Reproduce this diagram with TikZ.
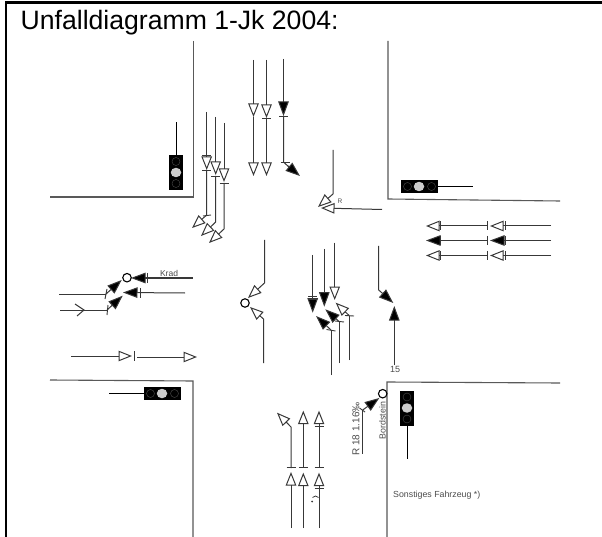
\documentclass[tikz,border=0pt]{standalone}
\usepackage{fontspec}
\setmainfont{Liberation Sans}
\usetikzlibrary{arrows.meta,shapes.geometric}
\definecolor{laneink}{gray}{0.22}
\definecolor{kerbink}{gray}{0.35}
\definecolor{labelink}{gray}{0.30}

\begin{document}
\begin{tikzpicture}[
    x=1pt, y=-1pt,
    kerb/.style={draw=kerbink, line width=1.1pt},
    trk/.style={draw=laneink, line width=1pt},
    stopbar/.style={draw=laneink, line width=0.9pt},
    opn/.style={trk, -{Triangle[open, length=13.5pt, width=10.5pt]}},
    blk/.style={trk, -{Triangle[length=14.5pt, width=10.5pt, fill=black]}},
    signalv/.style={rectangle, fill=black, minimum width=13.5pt, minimum height=35pt, inner sep=0pt},
    signalh/.style={rectangle, fill=black, minimum width=37pt, minimum height=13pt, inner sep=0pt},
    lamp/.style={ellipse, fill=black!20, minimum width=10.5pt, minimum height=9.5pt, inner sep=0pt},
    lampoff/.style={circle, draw=black!70, line width=0.4pt, minimum size=8pt, inner sep=0pt},
    stem/.style={draw=black, line width=1pt},
    crash/.style={circle, draw=black, fill=white, line width=1.1pt, minimum size=8.5pt, inner sep=0pt},
    note/.style={font=\fontsize{8.8}{10}\selectfont, text=labelink, inner sep=0pt}
]
    \useasboundingbox (0,0) rectangle (602,537);
    \fill[white] (0,0) rectangle (602,537);

    % frame and heading
    \coordinate (frameTL) at (6,2.5);
    \draw[line width=2.4pt] (6,537) -- (frameTL) -- (602,2.5);
    \node[anchor=base west, inner sep=0pt, font=\fontsize{26.6}{30}\selectfont] (title) at (20.5,30) {Unfalldiagramm 1-Jk 2004:};

    % kerbs
    \draw[kerb] (193.5,41) -- (193.5,197) -- (50,197);
    \draw[kerb] (388,41) -- (388,199) -- (560,201);
    \draw[kerb] (50,380) -- (193,381) -- (193,537);
    \draw[kerb] (387,537) -- (387,382) -- (560,383);

    % signals
    \node[signalv] (sigNW) at (176,172.5) {};
    \foreach \d in {-11,11}
        \node[lampoff] at (176,172.5+\d) {};
    \node[lamp] at (sigNW.center) {};
    \draw[stem] (sigNW.north) -- (176,122);
    \node[signalh] (sigNE) at (419.5,186.5) {};
    \foreach \d in {-12,12}
        \node[lampoff] at (419.5+\d,186.5) {};
    \node[lamp] at (419,186.5) {};
    \draw[stem] (sigNE.east) -- (473,186.5);
    \node[signalh] (sigSW) at (162.5,393.5) {};
    \foreach \d in {-12,12}
        \node[lampoff] at (162.5+\d,393.5) {};
    \node[lamp] at (162,393.5) {};
    \draw[stem] (sigSW.west) -- (109,393.5);
    \node[signalv] (sigSE) at (407,408) {};
    \foreach \d in {-11,11}
        \node[lampoff] at (407,408+\d) {};
    \node[lamp] at (sigSE.center) {};
    \draw[stem] (sigSE.south) -- (407,459);

    % from the north, straight on
    \draw[opn] (253.5,60) -- (253.5,117);
    \draw[opn] (253.5,117) -- (253.5,176);
    \draw[opn] (266.5,60) -- (266.5,118);
    \draw[opn] (266.5,118) -- (266.5,176);
    \draw[blk] (283.5,59) -- (283.5,116);
    \draw[trk] (283.5,116) -- (283.5,162) -- (290,168);
    \draw[blk] (288,166) -- (300,176);
    \foreach \x/\y in {266.5/118, 283.5/116, 285/162}
        \draw[stopbar] (\x-4.5,\y) -- (\x+4.5,\y);

    % from the north, turning right
    \draw[opn] (206.7,112) -- (206.7,170);
    \draw[opn] (215.7,117) -- (215.7,175);
    \draw[opn] (224,123) -- (224,182);
    \foreach \x/\y in {206.7/155, 206.7/170, 215.7/176, 224/183}
        \draw[stopbar] (\x-4.5,\y) -- (\x+4.5,\y);
    \draw[opn] (206.7,170) -- (206.7,215) -- (192,228);
    \draw[stopbar] (203,216) -- (211,215);
    \draw[opn] (215.7,176) -- (215.7,222) -- (201,236);
    \draw[opn] (224,183) -- (224,229) -- (209,243);

    % from the east
    \draw[opn] (333,150) -- (333,194) -- (318,207);
    \draw[opn] (382,209.5) -- (321,208);
    \node[note, font=\fontsize{6.5}{8}\selectfont] (markR) at (340,201.5) {R};
    \foreach \y/\kind in {226/opn, 240.5/blk, 255.5/opn}
    {
        \draw[trk, \kind] (551,\y) -- (490,\y);
        \draw[trk, \kind] (487,\y) -- (426,\y);
        \foreach \x in {505, 487, 440}
            \draw[stopbar] (\x,\y-4.5) -- (\x,\y+4.5);
    }

    % from the west
    \draw[trk] (192.7,278) -- (146,278);
    \draw[blk] (146,278) -- (131,278);
    \node[crash] (hitW) at (127,277.7) {};
    \draw[stopbar] (147,273) -- (147,283);
    \node[note, font=\fontsize{8.5}{10}\selectfont, above=0pt] (markKrad) at (169,277) {Krad};
    \draw[blk] (185,293) -- (123,292.5);
    \draw[stopbar] (140,288) -- (140,298);
    \draw[trk] (59,294) -- (106,294);
    \draw[blk] (106,294) -- (121.7,280);
    \draw[stopbar] (107,289) -- (105,299);
    \draw[trk] (60,310) -- (107,310);
    \draw[trk] (75,304) -- (84,310) -- (77,316);
    \draw[blk] (107,310) -- (122.7,295.7);
    \draw[stopbar] (108,305) -- (107,315);
    \draw[opn] (71,356) -- (132,356);
    \draw[stopbar] (134,351) -- (134,361);
    \draw[opn] (137,357) -- (197,357);

    % middle, circle on the left
    \draw[opn] (264.5,240) -- (264.5,283) -- (248,298);
    \draw[opn] (263.5,363) -- (263.5,319) -- (250,307);
    \node[crash] (hitM) at (245,303) {};

    % middle group
    \draw[blk] (312.7,255) -- (312.7,312.7);
    \foreach \y in {296,299}
        \draw[stopbar] (308,\y) -- (317.4,\y);
    \draw[blk] (324.3,249) -- (324.3,306.7);
    \draw[opn] (334.7,242.7) -- (334.7,300);
    \draw[trk] (331,375) -- (331,330);
    \draw[blk] (331,330) -- (316,316);
    \draw[stopbar] (326.5,329.5) -- (335.5,331);
    \draw[trk] (339.3,363) -- (339.3,321.7);
    \draw[blk] (339.3,321.7) -- (325.3,309.3);
    \draw[stopbar] (335,321) -- (344,322);
    \draw[trk] (349.3,360) -- (349.3,315.7);
    \draw[opn] (349.3,315.7) -- (335.7,302.7);
    \draw[stopbar] (345,315.5) -- (354,316);

    % right of the middle
    \draw[blk] (378.7,246) -- (378.7,290) -- (393.3,303);
    \draw[blk] (394.3,365) -- (394.3,306);
    \node[note, font=\fontsize{9}{10}\selectfont] (mark15) at (395,369) {15};

    % at the kerb stone
    \draw[trk] (362.7,453.7) -- (362.7,410);
    \draw[blk] (362.7,410) -- (379.3,398);
    \node[crash] (hitK) at (382.7,393.7) {};
    \draw[stopbar] (359.5,408) -- (365,412);
    \node[note, font=\fontsize{10}{12}\selectfont, rotate=90] (markR18) at (356,429) {R 18 1.16‰};
    \node[note, rotate=90] (markBord) at (382.5,420.5) {Bordstein};
    \node[note, anchor=west] (markOther) at (393,495) {Sonstiges Fahrzeug *)};

    % from the south
    \draw[opn] (291,528) -- (291,472);
    \draw[opn] (291,468) -- (291,427) -- (277,412.7);
    \draw[opn] (303.3,528) -- (303.3,472.7);
    \draw[opn] (303.3,467) -- (303.3,410.7);
    \draw[opn] (319,528) -- (319,472.7);
    \draw[opn] (319,467) -- (319,410.7);
    \foreach \x/\y in {291/467.7, 303.3/467, 319/467, 319/488, 319/426.7}
        \draw[stopbar] (\x-4.5,\y) -- (\x+4.5,\y);
    \draw[stopbar, line width=0.7pt] (312.5,497.5) .. controls (314,495.5) and (317,495.5) .. (318.5,497.5);
    \fill[laneink] (312,501.5) circle (1pt);
\end{tikzpicture}
\end{document}
